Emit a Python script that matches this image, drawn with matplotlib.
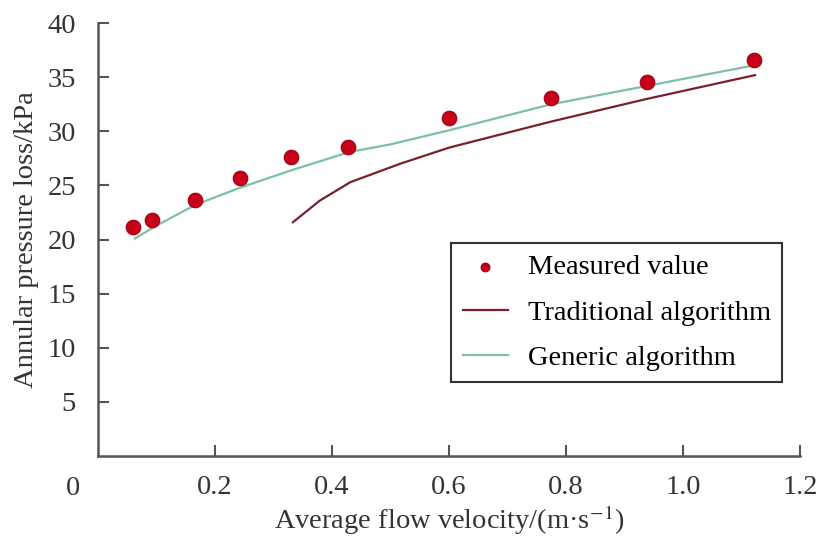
import matplotlib
matplotlib.use("Agg")
import matplotlib.pyplot as plt

plt.rcParams.update({"font.family": ["Liberation Serif", "DejaVu Serif"], "font.size": 20.5,
                     "mathtext.fontset": "stix"})

# measured points
meas_v = [0.060, 0.092, 0.166, 0.243, 0.330, 0.427, 0.600, 0.774, 0.938, 1.121]
meas_p = [21.2, 21.8, 23.7, 25.7, 27.6, 28.6, 31.2, 33.1, 34.6, 36.6]

# traditional algorithm
trad_v = [0.333, 0.379, 0.431, 0.516, 0.600, 0.774, 0.938, 1.123]
trad_p = [21.6, 23.6, 25.3, 27.0, 28.5, 30.9, 33.0, 35.2]

# generic algorithm
gen_v = [0.063, 0.100, 0.166, 0.243, 0.330, 0.430, 0.500, 0.600, 0.774, 0.938, 1.121]
gen_p = [20.1, 21.3, 23.2, 24.8, 26.4, 28.1, 28.8, 30.1, 32.5, 34.2, 36.1]

xticks = [0.2, 0.4, 0.6, 0.8, 1.0, 1.2]
yticks = [5, 10, 15, 20, 25, 30, 35, 40]

fig = plt.figure(figsize=(8.24, 5.39), dpi=100)
ax = fig.add_axes([0.119, 0.154, 0.852, 0.803])

ax.plot(trad_v, trad_p, color="#7a1f2e", lw=1.6, label="Traditional algorithm")
ax.plot(gen_v, gen_p, color="#7fbfa5", lw=1.6, label="Generic algorithm")
ax.scatter(meas_v, meas_p, s=110, color="#c8001a", edgecolors="#9a0010", lw=0.8,
           zorder=3, label="Measured value")

ax.set_xlim(0, 1.2); ax.set_ylim(0, 40)
ax.set_xticks(xticks); ax.set_xticklabels(["0.2", "0.4", "0.6", "0.8", "1.0", "1.2"])
ax.set_yticks(yticks)
ax.tick_params(direction="in", length=8, width=1.5, color="#555555", labelcolor="#333333")
ax.tick_params(axis="x", pad=14)
ax.tick_params(axis="y", pad=16)
for s in ["top", "right"]: ax.spines[s].set_visible(False)
for s in ["left", "bottom"]:
    ax.spines[s].set_linewidth(1.8); ax.spines[s].set_color("#555555")
ax.text(-0.043, -3.0, "0", ha="center", va="center", color="#333333")

ax.set_xlabel("Average flow velocity/(m·s$^{-1}$)", color="#333333", labelpad=2)
ax.set_ylabel("Annular pressure loss/kPa", color="#333333", labelpad=6)

h, l = ax.get_legend_handles_labels()
leg = ax.legend([h[2], h[0], h[1]], [l[2], l[0], l[1]], loc="upper left",
                bbox_to_anchor=(0.503, 0.492, 0.471, 0.0), mode="expand",
                fancybox=False, edgecolor="#333333", framealpha=1, handlelength=1.6,
                handletextpad=0.7, borderaxespad=0, labelspacing=0.68, markerscale=0.6,
                borderpad=0.4, fontsize=20.5)
leg.get_frame().set_linewidth(1.5)

fig.savefig("out.png", dpi=100)
